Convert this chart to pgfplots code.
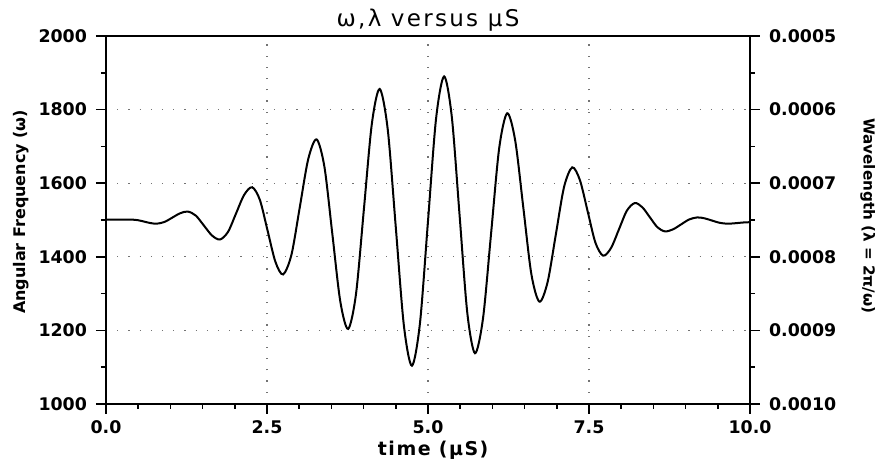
\documentclass[border=0pt]{standalone}
\usepackage{fontspec}
\setmainfont{DejaVu Sans}
\usepackage{pgfplots}
\pgfplotsset{compat=1.18}
\newfontfamily\titlefont[LetterSpace=10]{DejaVu Sans}
\newfontfamily\xlabfont[LetterSpace=8]{DejaVu Sans}
\begin{document}
\begin{tikzpicture}
\useasboundingbox (-53pt,-28pt) rectangle (384.5pt,202pt);
\begin{axis}[
  at={(0,0)}, anchor=south west,
  scale only axis, width=322pt, height=184pt,
  xmin=0, xmax=10, ymin=1000, ymax=2000,
  axis line style={line width=0.8pt},
  xtick={0,2.5,5,7.5,10}, xticklabels={0.0,2.5,5.0,7.5,10.0},
  minor xtick={0.5,1,1.5,2,3,3.5,4,4.5,5.5,6,6.5,7,8,8.5,9,9.5},
  ytick={1000,1200,1400,1600,1800,2000},
  yticklabels={1000,1200,1400,1600,1800,2000},
  minor ytick={1100,1300,1500,1700,1900},
  xtick pos=bottom, ytick pos=left,
  tick align=outside,
  major tick length=5pt, minor tick length=2.5pt,
  every tick/.style={black, line width=0.8pt},
  /pgf/number format/assume math mode=true,
  tick label style={font=\bfseries\fontsize{8.7}{10}\selectfont},
  yticklabel style={xshift=-1pt},
  grid=major,
  grid style={black!55, line width=0.6pt, dash pattern=on 0.6pt off 5pt},
  xlabel={time (μS)},
  xlabel style={font=\xlabfont\bfseries\fontsize{9.5}{11}\selectfont, at={(axis description cs:0.508,-0.125)}, anchor=center},
  ylabel={Angular Frequency (ω)},
  ylabel style={font=\bfseries\fontsize{8}{10}\selectfont, at={(axis description cs:-0.132,0.522)}, anchor=center},
  clip=false,
]
\addplot[black, line width=1pt, smooth, no markers] coordinates {
(0,1501) (0.2,1501) (0.4,1501)
(0.4975,1499.4) (0.595,1495.5) (0.6925,1491.6) (0.79,1490)
(0.91,1494.8) (1.03,1506.5) (1.15,1518.2) (1.27,1523)
(1.395,1511.9) (1.52,1485) (1.645,1458.1) (1.77,1447)
(1.895,1467.8) (2.02,1518) (2.145,1568.2) (2.27,1589)
(2.39,1554.3) (2.51,1470.5) (2.63,1386.7) (2.75,1352)
(2.88,1405.8) (3.01,1535.5) (3.14,1665.2) (3.27,1719)
(3.3925,1643.6) (3.515,1461.5) (3.6375,1279.4) (3.76,1204)
(3.8825,1299.5) (4.005,1530) (4.1275,1760.5) (4.25,1856)
(4.375,1745.9) (4.5,1480) (4.625,1214.1) (4.75,1104)
(4.875,1219.1) (5.0,1497) (5.125,1774.9) (5.25,1890)
(5.37,1779.9) (5.49,1514) (5.61,1248.1) (5.73,1138)
(5.855,1233.5) (5.98,1464) (6.105,1694.5) (6.23,1790)
(6.355,1715.0) (6.48,1534) (6.605,1353.0) (6.73,1278)
(6.8575,1331.5) (6.985,1460.5) (7.1125,1589.5) (7.24,1643)
(7.36,1607.8) (7.48,1523) (7.6,1438.2) (7.72,1403)
(7.8425,1424.0) (7.965,1474.5) (8.0875,1525.1) (8.21,1546)
(8.3275,1534.7) (8.445,1507.5) (8.5625,1480.3) (8.68,1469)
(8.805,1474.6) (8.93,1488) (9.055,1501.4) (9.18,1507)
(9.295,1504.5) (9.41,1498.5) (9.525,1492.5) (9.64,1490)
(9.73,1490.6) (9.82,1492) (9.91,1493.4) (10,1494)
};
\node[anchor=base, inner sep=0pt, font=\titlefont\fontsize{11.5}{13}\selectfont] at (axis description cs:0.5,1.0245) {ω,λ versus μS};
\end{axis}
\begin{axis}[
  at={(0,0)}, anchor=south west,
  scale only axis, width=322pt, height=184pt,
  xmin=0, xmax=10, ymin=0.0005, ymax=0.0010,
  y dir=reverse,
  axis x line=none, axis y line*=right,
  axis line style={line width=0.8pt},
  ytick={0.0005,0.0006,0.0007,0.0008,0.0009,0.0010},
  yticklabels={0.0005,0.0006,0.0007,0.0008,0.0009,0.0010},
  minor ytick={0.00055,0.00065,0.00075,0.00085,0.00095},
  tick align=outside,
  major tick length=5pt, minor tick length=2.5pt,
  every tick/.style={black, line width=0.8pt},
  scaled y ticks=false,
  /pgf/number format/assume math mode=true,
  tick label style={font=\bfseries\fontsize{8.7}{10}\selectfont},
  yticklabel style={xshift=1pt},
  ylabel={Wavelength (λ = 2π/ω)},
  ylabel style={font=\bfseries\fontsize{7.6}{10}\selectfont, at={(axis description cs:1.183,0.511)}, anchor=center, rotate=180},
]
\addplot[draw=none] coordinates {(0,0.0007)};
\end{axis}
\end{tikzpicture}
\end{document}
